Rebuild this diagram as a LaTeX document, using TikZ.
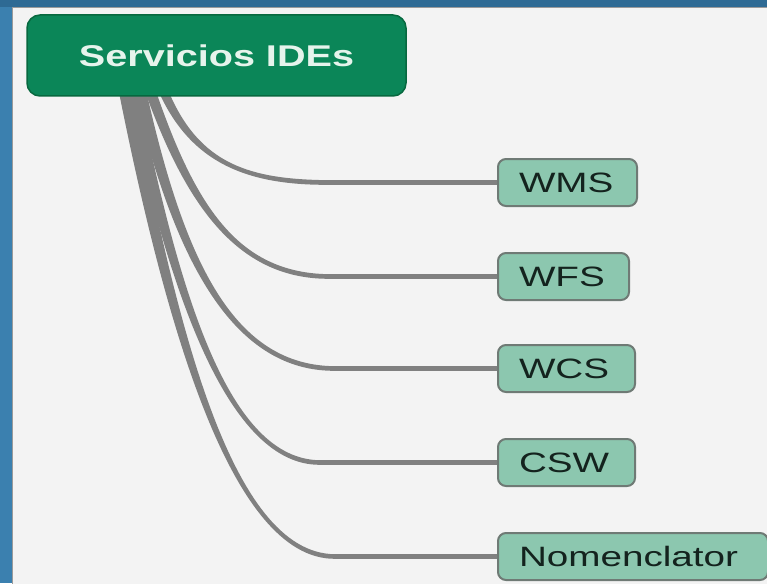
\documentclass[tikz,border=0pt]{standalone}
\usepackage{graphicx}
\usepackage{fontspec}
\setmainfont{Liberation Sans}
\usetikzlibrary{calc,backgrounds}
\definecolor{rootgreen}{HTML}{0B8658}
\definecolor{rootborder}{HTML}{07683F}
\definecolor{roottext}{HTML}{E6F4EC}
\definecolor{leafteal}{HTML}{8CC7AF}
\definecolor{leafborder}{HTML}{6F7A75}
\definecolor{leaftext}{HTML}{14231E}
\definecolor{conngray}{HTML}{808080}
\definecolor{bgblue}{HTML}{3B80AF}
\definecolor{bgdark}{HTML}{2E6A94}
\definecolor{panelfill}{HTML}{F3F3F3}
\definecolor{panelborder}{HTML}{9A9A9A}
\newcommand\tapercon[6]{%
  \fill[conn] ($(#1)+(-#6,0)$) .. controls ($(#2)+(-#6*0.85,0)$) and ($(#3)+(0,3)$) .. ($(#4)+(0,2.3)$)
    -- ($(#5.west)+(0,2.3)$) -- ($(#5.west)+(0,-2.3)$) -- ($(#4)+(0,-2.3)$)
    .. controls ($(#3)+(0,-3)$) and ($(#2)+(#6*0.85,0)$) .. ($(#1)+(#6,0)$) -- cycle;}
\begin{document}
\begin{tikzpicture}[x=1pt,y=-1pt,
  root/.style={draw=rootborder, line width=1.5pt, fill=rootgreen, rounded corners=13pt,
    minimum width=379pt, minimum height=81pt, inner sep=0pt, text=roottext,
    font=\fontsize{30}{36}\selectfont\bfseries},
  leaf/.style={draw=leafborder, line width=2pt, fill=leafteal, rounded corners=8pt,
    minimum height=47pt, inner xsep=21pt, inner ysep=0pt, align=left, anchor=west,
    text=leaftext, font=\fontsize{28}{33}\selectfont},
  conn/.style={fill=conngray}]
\useasboundingbox (0,0) rectangle (767,583);
% nodes
\node[root] (root) at (216.5,55.5) {\scalebox{1.32}[1]{Servicios IDEs}};
\node[leaf, text width=97pt] (wms) at (497,182.5) {\scalebox{1.38}[1]{WMS}};
\node[leaf, text width=89pt] (wfs) at (497,276.5) {\scalebox{1.38}[1]{WFS}};
\node[leaf, text width=95pt] (wcs) at (497,368.5) {\scalebox{1.38}[1]{WCS}};
\node[leaf, text width=95pt] (csw) at (497,462.5) {\scalebox{1.38}[1]{CSW}};
\node[leaf, text width=228pt] (nom) at (497,556.5) {\scalebox{1.38}[1]{Nomenclator}};
% start and bend coordinates
\coordinate (s1) at (163,90);
\coordinate (s2) at (150,90);
\coordinate (s3) at (140,90);
\coordinate (s4) at (132,90);
\coordinate (s5) at (125,90);
\coordinate (b1) at (330,182.5);
\coordinate (b2) at (330,276.5);
\coordinate (b3) at (335,368.5);
\coordinate (b4) at (320,462.5);
\coordinate (b5) at (335,556.5);
\begin{scope}[on background layer]
  \fill[bgblue] (0,0) rectangle (767,583);
  \fill[bgdark] (0,0) rectangle (767,7);
  \filldraw[fill=panelfill, draw=panelborder, line width=1pt] (12,8) rectangle (790,600);
  \tapercon{s1}{195,165}{250,182.5}{b1}{wms}{5}
  \tapercon{s2}{192,210}{240,276.5}{b2}{wfs}{5.5}
  \tapercon{s3}{180,265}{235,368.5}{b3}{wcs}{6}
  \tapercon{s4}{175,300}{230,462.5}{b4}{csw}{6}
  \tapercon{s5}{170,320}{230,556.5}{b5}{nom}{6.5}
\end{scope}
\end{tikzpicture}
\end{document}
